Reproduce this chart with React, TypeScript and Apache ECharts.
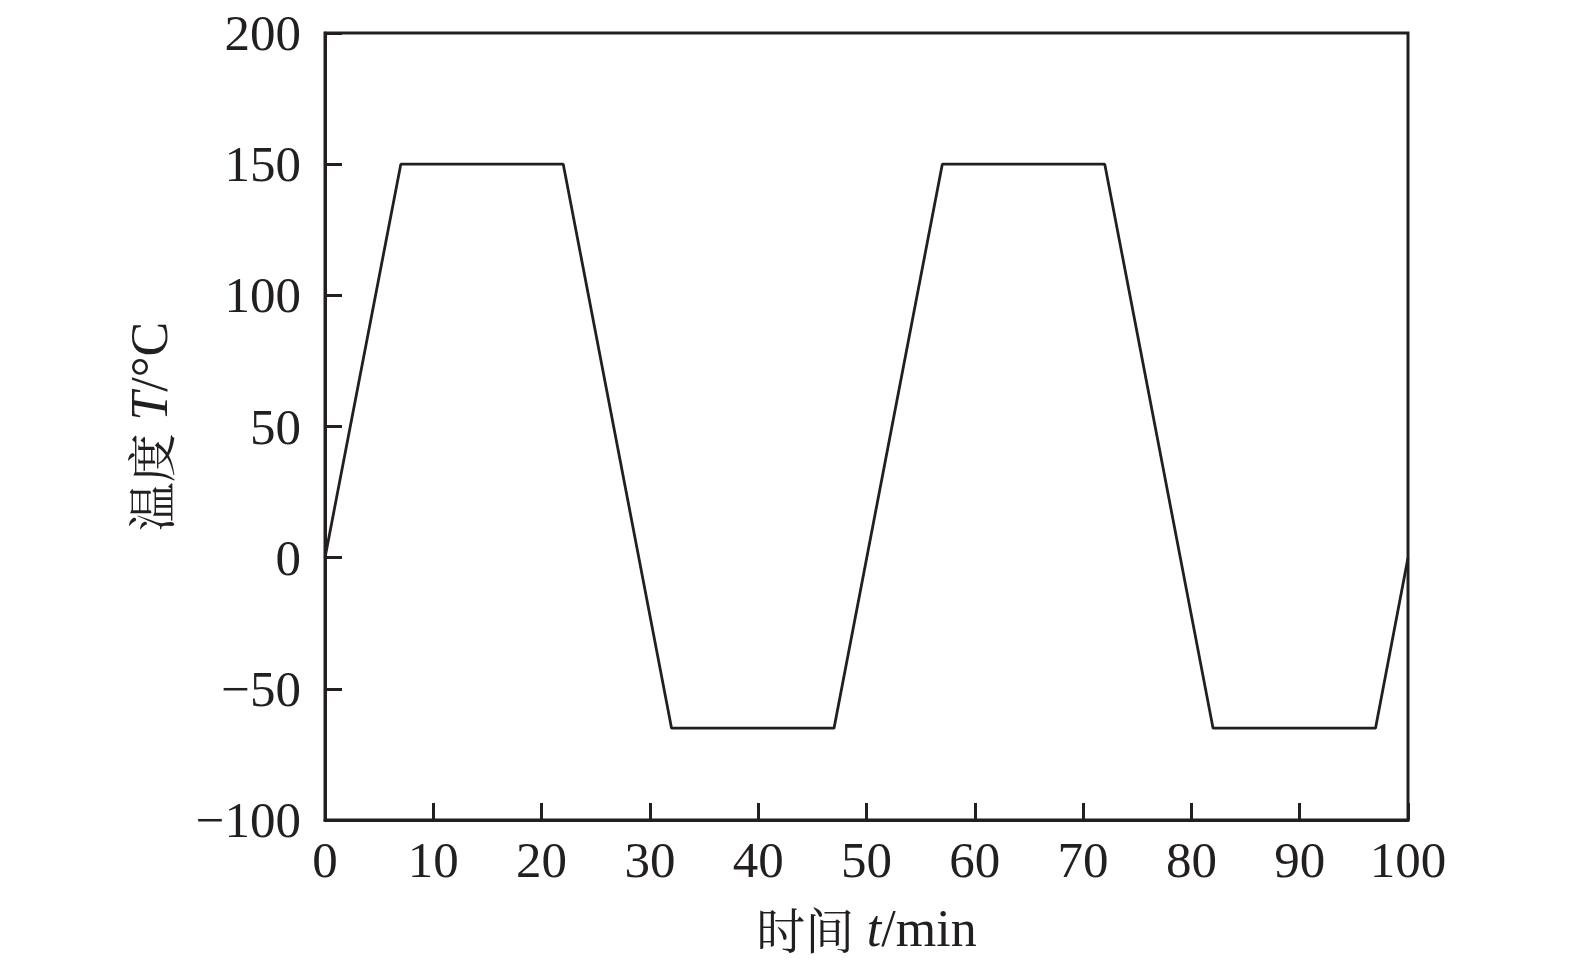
import React, { useEffect, useRef } from "react";
import * as echarts from "echarts";

const timeMin = [0, 7, 22, 32, 47, 57, 72, 82, 97, 100];
const tempC = [0, 150, 150, -65, -65, 150, 150, -65, -65, 0];
const xTicks = [0, 100, 10];
const yTicks = [-100, 200, 50];

const INK = "#231f20";
const SERIF = "'Liberation Serif', 'Times New Roman', 'Noto Serif CJK SC', 'Noto Sans CJK SC', serif";
const CJK = "'Noto Serif CJK SC', 'Noto Sans CJK SC', serif";

export default function App() {
  const ref = useRef<HTMLDivElement>(null);
  useEffect(() => {
    if (!ref.current) return;
    const chart = echarts.init(ref.current, null, { renderer: "svg" });
    const data = timeMin.map((t, i) => [t, tempC[i]]);
    const fmt = (v: number) => String(v).replace("-", "\u2212");
    chart.setOption({
      animation: false,
      backgroundColor: "#ffffff",
      grid: {
        left: 325,
        right: 167,
        top: 33,
        bottom: 148,
        show: true,
        borderColor: INK,
        borderWidth: 3,
        backgroundColor: "transparent",
      },
      xAxis: {
        type: "value",
        min: xTicks[0],
        max: xTicks[1],
        interval: xTicks[2],
        splitLine: { show: false },
        axisLine: { onZero: false, lineStyle: { color: INK, width: 3 } },
        axisTick: { inside: true, length: 17, lineStyle: { color: INK, width: 3 } },
        axisLabel: { color: INK, fontFamily: SERIF, fontSize: 51, margin: 14, formatter: fmt },
        name: "{a|时间 }{i|t}{b|/min}",
        nameLocation: "middle",
        nameGap: 82,
        nameTextStyle: {
          verticalAlign: "top",
          rich: {
            a: { fontFamily: CJK, fontSize: 49, color: INK },
            i: { fontFamily: SERIF, fontSize: 52, fontStyle: "italic", color: INK },
            b: { fontFamily: SERIF, fontSize: 52, color: INK },
          },
        },
      },
      yAxis: {
        type: "value",
        min: yTicks[0],
        max: yTicks[1],
        interval: yTicks[2],
        splitLine: { show: false },
        axisLine: { show: true, onZero: false, lineStyle: { color: INK, width: 3 } },
        axisTick: { show: true, inside: true, length: 17, lineStyle: { color: INK, width: 3 } },
        axisLabel: { color: INK, fontFamily: SERIF, fontSize: 51, margin: 24, formatter: fmt },
        name: "{a|温度 }{i|T}{b|/°C}",
        nameLocation: "middle",
        nameGap: 150,
        nameRotate: 90,
        nameTextStyle: {
          rich: {
            a: { fontFamily: CJK, fontSize: 49, color: INK },
            i: { fontFamily: SERIF, fontSize: 52, fontStyle: "italic", color: INK },
            b: { fontFamily: SERIF, fontSize: 52, color: INK },
          },
        },
      },
      series: [
        {
          type: "line",
          data,
          symbol: "none",
          lineStyle: { color: INK, width: 2.8 },
        },
      ],
    });
    return () => chart.dispose();
  }, []);
  return (
    <div
      ref={ref}
      style={{ position: "absolute", left: 0, top: 0, width: 1575, height: 968 }}
    />
  );
}
